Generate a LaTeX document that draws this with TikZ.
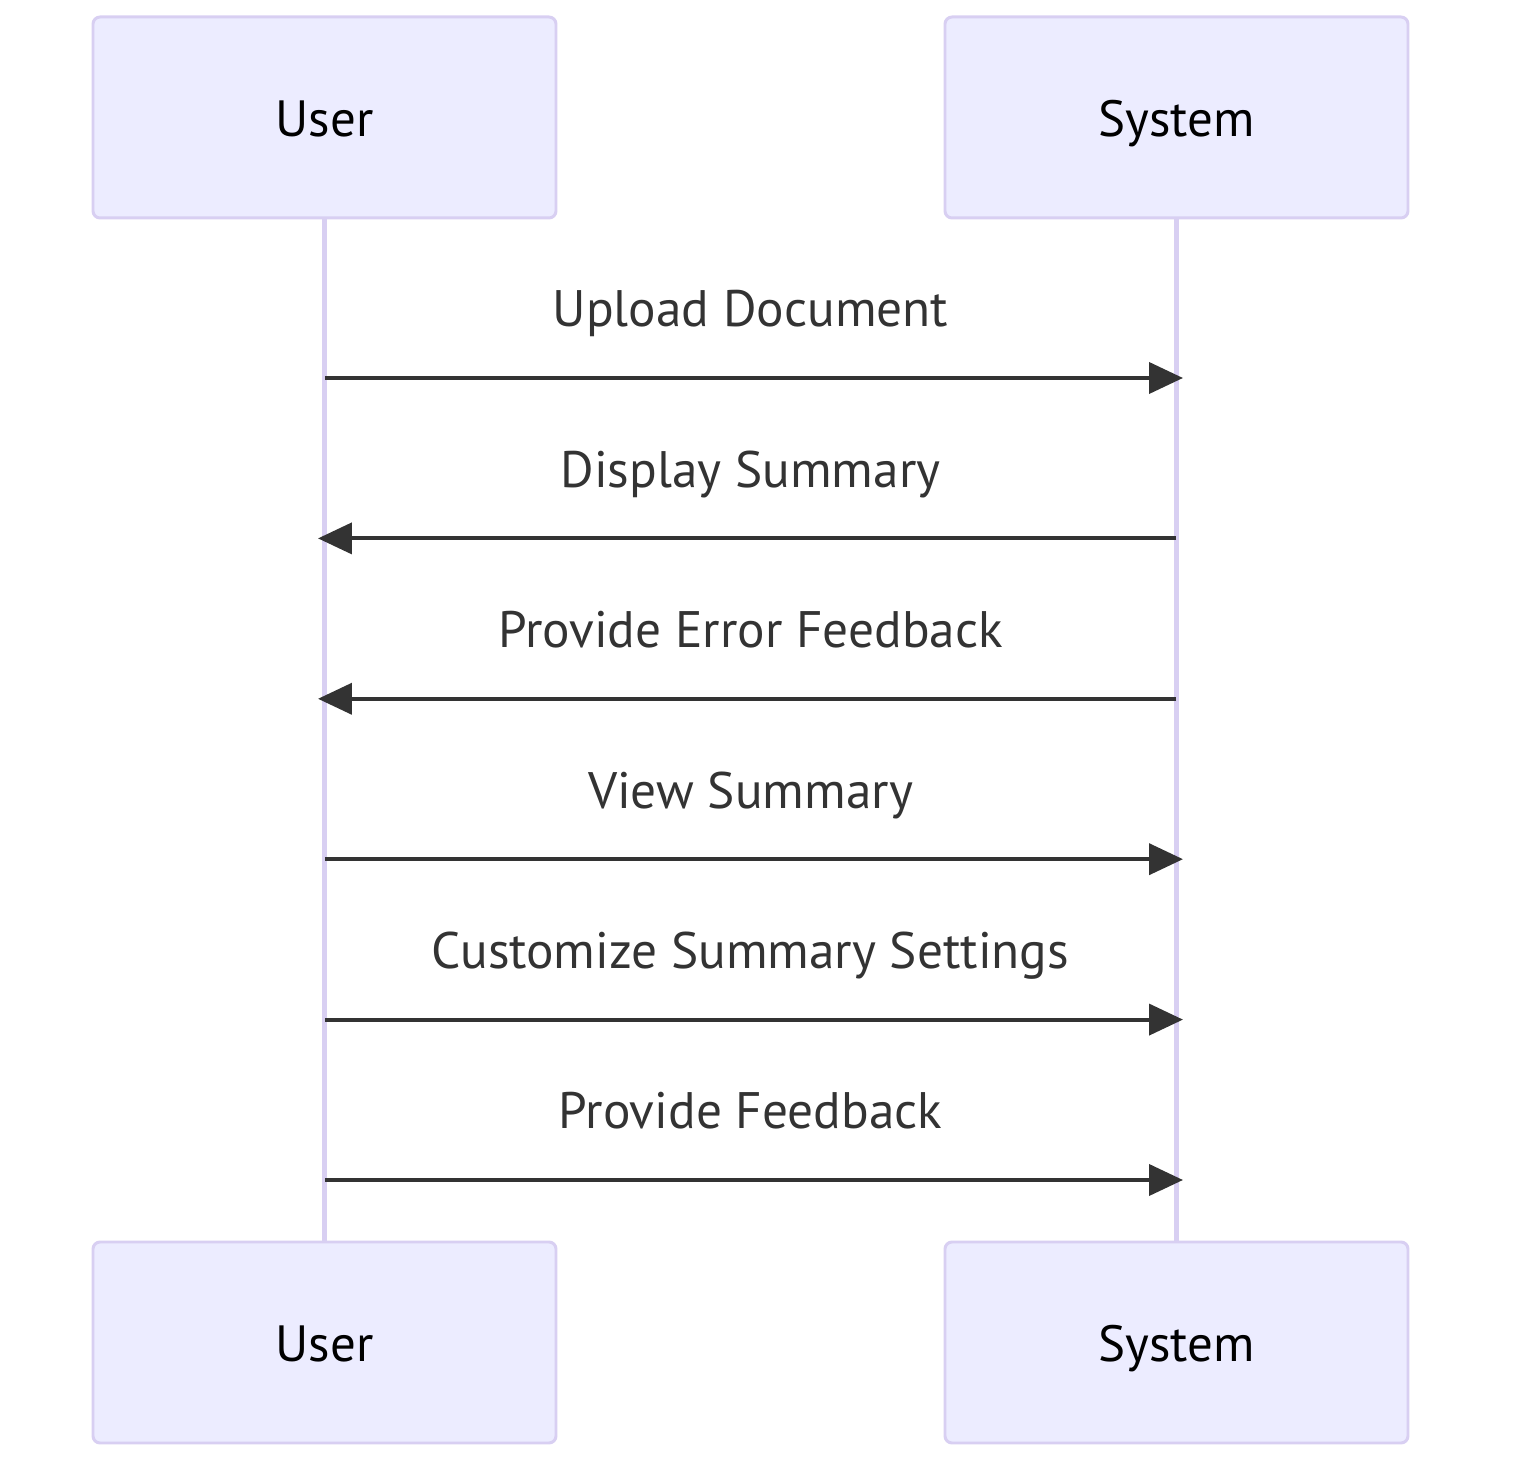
\documentclass[tikz,border=0pt]{standalone}
\usepackage{fontspec}
\setmainfont{PT Sans}
\usetikzlibrary{arrows.meta,positioning,calc}
\definecolor{actorfill}{HTML}{ECECFF}
\definecolor{actorline}{HTML}{D8CFF2}
\definecolor{msgline}{HTML}{333333}

\begin{document}
\begin{tikzpicture}[actor/.style={rectangle,rounded corners=0.07cm,draw=actorline,fill=actorfill,
                      line width=0.85pt,minimum width=4.63cm,minimum height=2.01cm,
                      text height=0.39cm,text depth=0pt,
                      font=\fontsize{14.5pt}{17}\selectfont},
                    lifeline/.style={draw=actorline,line width=1.5pt},
                    msg/.style={draw=msgline,line width=1.15pt,
                      -{Triangle[length=0.34cm,width=0.31cm]},shorten >=-0.07cm},
                    msg label/.style={font=\fontsize{14.6pt}{17}\selectfont,text=msgline}]
  \useasboundingbox (0,0) rectangle (15.40,-14.67);

  \node[actor] (usertop) at (3.245,-1.175) {User};
  \node[actor] (systop) at (11.765,-1.175) {System};
  \node[actor] (userbot) at (3.245,-13.425) {User};
  \node[actor] (sysbot) at (11.765,-13.425) {System};

  \draw[lifeline] (usertop) -- (userbot);
  \draw[lifeline] (systop) -- (sysbot);

  \foreach \txt/\a/\b [count=\i] in {Upload Document/u/s, Display Summary/s/u,
      Provide Error Feedback/s/u, View Summary/u/s,
      Customize Summary Settings/u/s, Provide Feedback/u/s} {
    \coordinate (u\i) at (3.25,{-3.78-1.604*(\i-1)});
    \coordinate (s\i) at (11.76,{-3.78-1.604*(\i-1)});
    \draw[msg] (\a\i) -- (\b\i)
      node[msg label,midway,anchor=base,yshift=0.51cm] (msg\i) {\txt};
  }
\end{tikzpicture}
\end{document}
